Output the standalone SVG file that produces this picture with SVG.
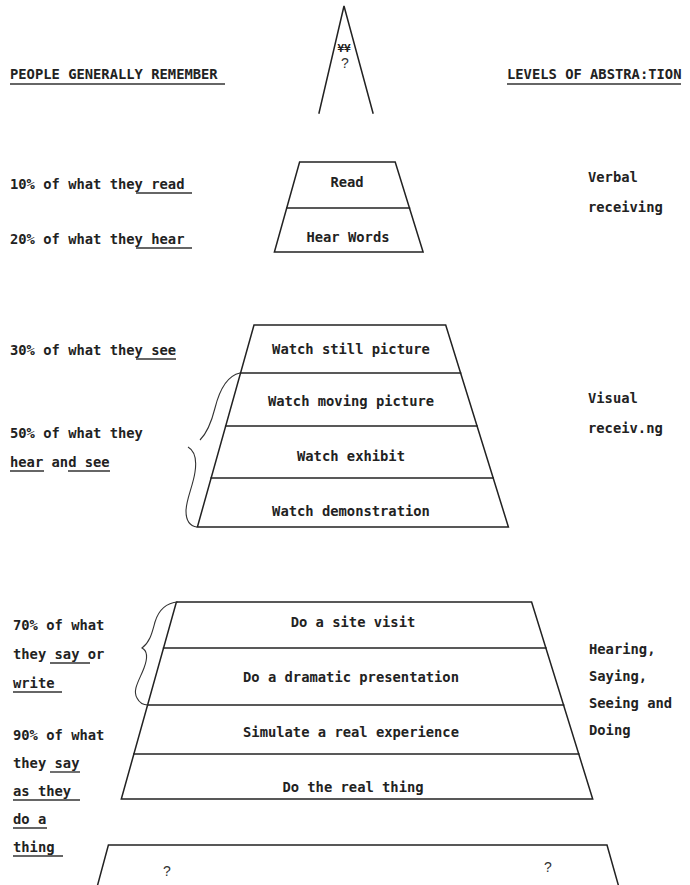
<svg xmlns="http://www.w3.org/2000/svg" width="690" height="885" viewBox="0 0 690 885">
<style>
  .t { font-family: "DejaVu Sans Mono", "Liberation Mono", monospace; font-size: 13.8px; font-weight: bold; fill: #222; }
  .c { text-anchor: middle; }
  .q { font-family: "Liberation Sans", Arial, sans-serif; font-size: 14px; fill: #333; text-anchor: middle; }
  .ln { stroke: #222; stroke-width: 1.5; fill: none; stroke-linecap: square; }
  .ul { stroke: #333; stroke-width: 1.4; fill: none; }
  .br { stroke: #333; stroke-width: 1.1; fill: none; }
</style>
<rect width="690" height="885" fill="#fff"/>

<g id="headers">
  <text class="t" x="10" y="79">PEOPLE GENERALLY REMEMBER</text>
  <line class="ul" x1="10" y1="84" x2="225" y2="84"/>
  <text class="t" x="507" y="79">LEVELS OF ABSTRA:TION</text>
  <line class="ul" x1="507" y1="84" x2="681" y2="84"/>
</g>

<g id="apex">
  <path class="ln" d="M319,113 L344,6 L373,113"/>
  <text class="t c" x="344" y="52" style="font-size:11px">¥¥</text>
  <text class="q" x="345" y="68">?</text>
</g>

<g id="verbal-level">
  <path class="ln" d="M299.6,162 L395.2,162 L423.1,252 L274.4,252 Z"/>
  <line class="ln" x1="286.8" y1="208" x2="409.5" y2="208"/>
  <text class="t c" x="347" y="187">Read</text>
  <text class="t c" x="348" y="242">Hear Words</text>
</g>

<g id="visual-level">
  <path class="ln" d="M254,325 L445.7,325 L508.4,527 L197.4,527 Z"/>
  <line class="ln" x1="240.6" y1="373" x2="460.6" y2="373"/>
  <line class="ln" x1="225.7" y1="426" x2="477" y2="426"/>
  <line class="ln" x1="211.2" y1="478" x2="493.2" y2="478"/>
  <text class="t c" x="351" y="354">Watch still picture</text>
  <text class="t c" x="351" y="406">Watch moving picture</text>
  <text class="t c" x="351" y="461">Watch exhibit</text>
  <text class="t c" x="351" y="516">Watch demonstration</text>
</g>

<g id="doing-level">
  <path class="ln" d="M176.4,602 L531.6,602 L592.7,799 L121.3,799 Z"/>
  <line class="ln" x1="163.6" y1="648" x2="545.9" y2="648"/>
  <line class="ln" x1="147.6" y1="705" x2="563.6" y2="705"/>
  <line class="ln" x1="133.9" y1="754" x2="578.7" y2="754"/>
  <text class="t c" x="353" y="627">Do a site visit</text>
  <text class="t c" x="351" y="682">Do a dramatic presentation</text>
  <text class="t c" x="351" y="737">Simulate a real experience</text>
  <text class="t c" x="353" y="792">Do the real thing</text>
</g>

<g id="base-level">
  <path class="ln" d="M96,891 L108.4,845 L607,845 L620,891"/>
  <text class="q" x="167" y="876">?</text>
  <text class="q" x="548" y="872">?</text>
</g>

<g id="remember-labels">
  <text class="t" x="10" y="189">10% of what they read</text>
  <line class="ul" x1="136" y1="193" x2="192" y2="193"/>
  <text class="t" x="10" y="244">20% of what they hear</text>
  <line class="ul" x1="136" y1="248" x2="192" y2="248"/>
  <text class="t" x="10" y="355">30% of what they see</text>
  <line class="ul" x1="136" y1="359" x2="176" y2="359"/>
  <text class="t" x="10" y="438">50% of what they</text>
  <text class="t" x="10" y="467">hear and see</text>
  <line class="ul" x1="10" y1="471" x2="44" y2="471"/>
  <line class="ul" x1="68" y1="471" x2="110" y2="471"/>
  <text class="t" x="13" y="630">70% of what</text>
  <text class="t" x="13" y="659">they say or</text>
  <line class="ul" x1="50" y1="663" x2="90" y2="663"/>
  <text class="t" x="13" y="688">write</text>
  <line class="ul" x1="13" y1="692" x2="62" y2="692"/>
  <text class="t" x="13" y="740">90% of what</text>
  <text class="t" x="13" y="768">they say</text>
  <line class="ul" x1="50" y1="772" x2="80" y2="772"/>
  <text class="t" x="13" y="796">as they</text>
  <line class="ul" x1="13" y1="800" x2="80" y2="800"/>
  <text class="t" x="13" y="824">do a</text>
  <line class="ul" x1="13" y1="828" x2="47" y2="828"/>
  <text class="t" x="13" y="852">thing</text>
  <line class="ul" x1="13" y1="856" x2="63" y2="856"/>
</g>

<g id="abstraction-labels">
  <text class="t" x="588" y="182">Verbal</text>
  <text class="t" x="588" y="212">receiving</text>
  <text class="t" x="588" y="403">Visual</text>
  <text class="t" x="588" y="433">receiv.ng</text>
  <text class="t" x="589" y="654">Hearing,</text>
  <text class="t" x="589" y="681">Saying,</text>
  <text class="t" x="589" y="708">Seeing and</text>
  <text class="t" x="589" y="735">Doing</text>
</g>

<g id="connectors">
  <path class="br" d="M240,373 C226,376 219,392 215,408 C211,424 206,434 200,440"/>
  <path class="br" d="M188,447 C195,451 197,459 195,472 C193,486 186,500 186,511 C186,521 190,526 197,527"/>
  <path class="br" d="M178,602 C165,603 158,612 155,622 C152,633 150,642 142,648 C148,651 147,660 144,668 C140,679 132,690 137,698 C139,702 143,705 148,705"/>
</g>
</svg>
